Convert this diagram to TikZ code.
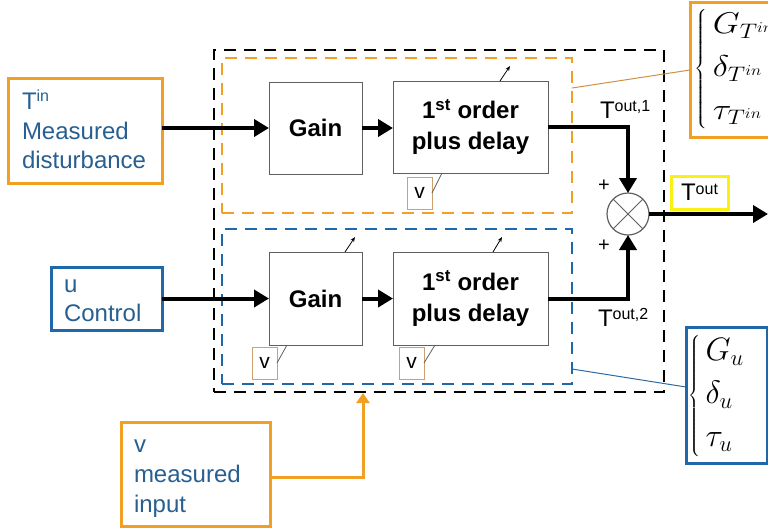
\RequirePackage{fix-cm}
\documentclass[tikz,border=0pt]{standalone}
\usepackage{graphicx}
\usepackage{fontspec}
\setmainfont{Liberation Sans}
\usetikzlibrary{arrows.meta}
\definecolor{orng}{RGB}{242,160,36}
\definecolor{bluB}{RGB}{31,105,170}
\definecolor{bluT}{RGB}{40,95,145}
\definecolor{tanc}{RGB}{205,160,110}
\definecolor{yel}{RGB}{250,240,20}
\definecolor{blkg}{RGB}{95,95,95}
\definecolor{orthin}{RGB}{205,145,70}
\definecolor{blthin}{RGB}{45,105,165}
\newcommand\Tsup[2][7pt]{{\fontsize{24}{24}\selectfont T}\raisebox{#1}{\fontsize{16}{16}\selectfont #2}}
\begin{document}
\begin{tikzpicture}[x=1pt,y=-1pt,
  obox/.style={draw, line width=3pt, fill=white, inner sep=0pt, outer sep=0pt, rectangle},
  block/.style={draw=blkg, line width=1pt, fill=white, inner sep=0pt, outer sep=0pt,
    font=\fontsize{24}{31}\selectfont\bfseries, align=center},
  vsmall/.style={draw=tanc, line width=1pt, fill=white, minimum width=25pt, minimum height=32pt,
    inner sep=0pt, outer sep=0pt, font=\fontsize{21}{21}\selectfont},
  grp/.style={line width=2.6pt, dash pattern=on 12pt off 8pt, inner sep=0pt, outer sep=0pt,
    anchor=north west},
  flow/.style={line width=4pt, -{Triangle[length=15pt,width=17pt]}},
  thinarr/.style={line width=0.8pt, -{Stealth[length=5pt,width=4pt]}},
  thinl/.style={line width=0.8pt, blkg},
  lbl/.style={inner sep=0pt, outer sep=0pt, anchor=base west, font=\fontsize{24}{24}\selectfont},
]
\useasboundingbox (0,0) rectangle (768,531);

% dashed groups
\node[grp, draw=black, minimum width=450pt, minimum height=342pt] (sys) at (214,50) {};
\node[grp, draw=orng, minimum width=350pt, minimum height=155pt] (grp1) at (222,58) {};
\node[grp, draw=bluB, minimum width=350pt, minimum height=155pt] (grp2) at (222,229) {};

% input boxes
\node[obox, draw=orng, minimum width=154pt, minimum height=105pt] (tin) at (85,130.5) {};
\node[lbl, text=bluT] (tin1) at (22,109) {\Tsup[8pt]{in}};
\node[lbl, text=bluT] (tin2) at (22,139) {Measured};
\node[lbl, text=bluT] (tin3) at (22,168) {disturbance};

\node[obox, draw=bluB, minimum width=111pt, minimum height=63pt] (uin) at (106.5,298.5) {};
\node[lbl, text=bluT] (u1) at (64,292) {u};
\node[lbl, text=bluT] (u2) at (64,321) {Control};

\node[obox, draw=orng, minimum width=149pt, minimum height=104pt] (vin) at (195.5,474) {};
\node[lbl, text=bluT] (v1) at (134,452) {v};
\node[lbl, text=bluT] (v2) at (134,482) {measured};
\node[lbl, text=bluT] (v3) at (134,512) {input};

% blocks
\node[block, minimum width=93pt, minimum height=92pt] (gain1) at (315.5,128) {Gain};
\node[block, minimum width=155pt, minimum height=92pt] (fo1) at (470.5,127) {1\textsuperscript{st} order\\plus delay};
\node[block, minimum width=93pt, minimum height=93pt] (gain2) at (315.5,298.5) {Gain};
\node[block, minimum width=155pt, minimum height=93pt] (fo2) at (470.5,298.5) {1\textsuperscript{st} order\\plus delay};

% small v boxes
\node[vsmall] (vb1) at (419.5,193) {v};
\node[vsmall] (vb2) at (264.5,363) {v};
\node[vsmall] (vb3) at (411.5,363) {v};
\draw[thinl] (vb1.east) -- ++(10,-20);
\draw[thinl] (vb2.east) -- ++(10,-18);
\draw[thinl] (vb3.east) -- ++(11,-18);

% small parameter arrows
\draw[thinarr] ([xshift=29.5pt]fo1.north) -- ++(10,-15);
\draw[thinarr] ([xshift=29.5pt]gain2.north) -- ++(10,-15);
\draw[thinarr] ([xshift=22.5pt]fo2.north) -- ++(9,-15);

% summing junction
\node[circle, draw=blkg, line width=1.2pt, fill=white, minimum size=42pt, inner sep=0pt, outer sep=0pt] (sum) at (628,214) {};
\draw[blkg, line width=1pt] (sum.north east) -- (sum.south west) (sum.north west) -- (sum.south east);

% main flow
\draw[flow] (tin.east |- gain1.west) -- (gain1.west);
\draw[flow] (gain1.east) -- (fo1.west |- gain1.east);
\draw[flow] (uin.east |- gain2.west) -- (gain2.west);
\draw[flow] (gain2.east) -- (fo2.west);
\draw[flow] (fo1.east) -| (sum.north);
\draw[flow] (fo2.east) -| (sum.south);
\coordinate (outp) at (768,214);
\draw[flow] (sum.east) -- (outp);

% v input arrow
\coordinate (vtip) at (363,393);
\draw[orng, line width=3pt, -{Triangle[length=10pt,width=13pt]}] ([yshift=-3pt]vin.east) -| (vtip);

% labels
\node[lbl] (lo1) at (600,118) {\Tsup{out,1}};
\node[lbl] (lo2) at (598,326) {\Tsup{out,2}};
\node[inner sep=0pt, font=\fontsize{20}{20}\selectfont] (p1) at (604,186) {+};
\node[inner sep=0pt, font=\fontsize{20}{20}\selectfont] (p2) at (604,246) {+};
\node[obox, draw=yel, minimum width=57pt, minimum height=33pt] (tout) at (699.5,192.5) {\Tsup[6pt]{out}};

% parameter boxes
\node[obox, draw=orng, minimum width=100pt, minimum height=135pt, anchor=north west] (bt) at (690,2) {};
\node[inner sep=0pt, anchor=west] (btm) at (694,69)
  {\scalebox{1.45}[1.25]{\fontsize{24}{28}\selectfont$\left\{\begin{array}{@{\,}l@{}} G_{T^{in}}\\[6.4pt] \delta_{T^{in}}\\[6.4pt] \tau_{T^{in}}\end{array}\right.$}};
\node[obox, draw=bluB, minimum width=81pt, minimum height=136pt] (bb) at (726.5,395) {};
\node[inner sep=0pt, anchor=west] (bbm) at (688,396)
  {\scalebox{1.35}{\fontsize{24}{28}\selectfont$\left\{\begin{array}{@{\,}l@{}} G_u\\[4pt] \delta_u\\[4pt] \tau_u\end{array}\right.$}};

% thin links to parameter boxes
\coordinate (c1) at (572,88);
\coordinate (c2) at (572,369);
\draw[orthin, line width=1pt] (c1) -- (bt.west |- 0,70);
\draw[blthin, line width=1pt] (c2) -- (bb.west |- 0,387);
\end{tikzpicture}
\end{document}
